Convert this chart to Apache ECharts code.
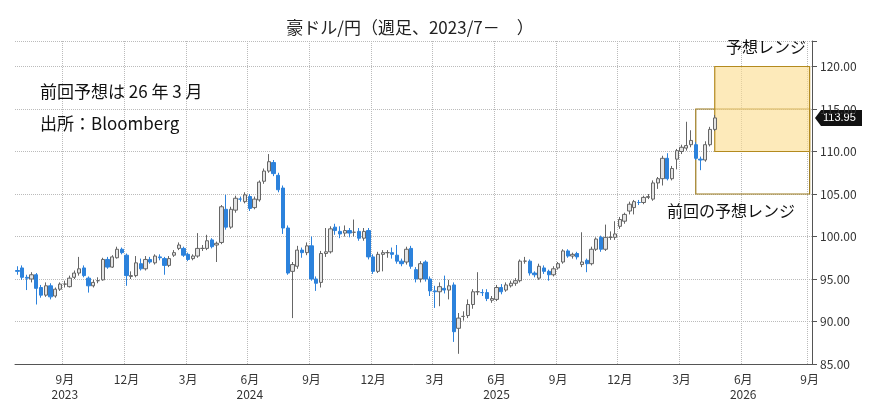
<!DOCTYPE html>
<html>
<head>
<meta charset="utf-8">
<script src="https://cdn.jsdelivr.net/npm/echarts@6/dist/echarts.min.js"></script>
<style>body{margin:0;background:#fff}#chart{width:874px;height:409px}</style>
</head>
<body>
<div id="chart"></div>
<script>
// weekly candles from week of 2023-06-26, [open, close, low, high]
var candles = [
  [96.0,95.9,95.5,96.5],[96.3,95.2,94.9,96.6],[95.2,95.1,93.7,95.5],[95.0,95.5,94.6,95.8],[95.5,93.9,92.0,95.7],
  [94.0,93.1,92.8,94.3],[93.1,94.2,92.9,94.6],[94.2,92.9,92.6,94.5],[93.0,93.8,92.8,94.0],[93.8,94.4,93.6,94.6],
  [94.4,94.4,94.0,94.8],[94.1,95.1,94.0,95.4],[95.2,95.7,95.0,96.0],[95.7,96.2,95.4,97.6],[96.3,95.4,95.2,96.6],
  [95.1,94.2,93.4,95.3],[94.2,94.6,94.0,94.9],[94.8,94.8,94.5,95.2],[94.9,97.3,94.8,97.5],[97.3,96.4,96.2,97.6],
  [96.4,97.6,96.3,97.8],[97.5,98.5,97.4,98.8],[98.5,98.1,97.9,98.7],[97.8,95.4,94.2,98.0],[95.3,95.4,95.0,95.9],
  [95.4,96.9,95.2,97.7],[96.8,96.2,96.0,97.4],[96.2,97.3,96.0,97.7],[97.3,97.0,96.8,97.6],[96.9,97.7,96.7,97.9],
  [97.6,97.5,97.2,97.9],[97.4,96.6,95.5,97.6],[96.6,97.4,96.4,97.7],[97.8,98.1,97.6,98.4],[98.6,99.0,98.4,99.3],
  [98.6,97.8,97.6,98.8],[97.9,97.3,97.1,98.1],[97.4,97.7,97.2,97.9],[97.7,98.6,97.5,100.4],[98.6,98.6,98.3,99.0],
  [98.6,99.5,98.4,100.2],[99.6,98.8,98.6,99.8],[99.0,99.2,97.0,99.4],[99.3,103.5,99.1,103.7],[103.2,101.1,100.8,104.9],
  [101.1,103.2,100.9,103.5],[103.1,104.5,102.8,104.8],[104.4,104.4,104.1,104.7],[104.1,104.9,103.9,105.2],[104.7,103.3,103.0,105.0],
  [103.4,104.4,103.2,104.7],[104.3,106.4,104.1,106.6],[106.5,107.7,106.2,108.0],[107.7,108.8,107.5,109.7],[108.7,107.4,107.1,109.0],
  [107.2,105.5,105.2,107.5],[105.7,101.0,100.3,106.0],[101.0,95.7,95.5,101.3],[95.9,96.7,90.4,97.0],[96.5,98.4,96.2,98.9],
  [98.4,98.1,97.5,98.7],[98.1,98.9,97.8,99.3],[98.9,95.0,94.8,100.0],[95.0,94.5,93.6,95.3],[94.6,98.0,94.0,98.3],
  [98.0,98.2,97.6,101.0],[98.2,100.9,98.0,101.2],[101.1,100.7,100.2,101.5],[100.6,100.3,99.8,101.2],[100.4,100.7,100.0,101.3],
  [100.7,100.4,99.9,101.0],[100.5,100.5,100.0,102.0],[100.6,99.8,99.5,101.0],[99.8,100.6,99.5,101.0],[100.7,97.6,97.3,101.0],
  [97.6,95.9,95.6,97.9],[95.9,97.9,95.7,98.2],[97.9,98.1,95.9,98.4],[98.1,98.1,97.5,98.4],[98.1,97.9,97.4,98.7],
  [97.8,97.1,96.8,99.0],[97.1,96.8,96.5,97.4],[97.0,98.5,96.7,98.8],[98.6,96.5,96.2,98.9],[96.1,95.0,94.6,96.4],
  [95.0,96.8,94.6,97.1],[97.0,95.0,94.7,97.2],[95.0,93.6,93.0,95.3],[93.6,93.5,91.6,94.2],[93.5,94.1,91.8,94.6],
  [93.9,93.7,93.3,95.4],[93.7,94.2,92.6,94.9],[94.3,88.8,87.6,94.6],[89.2,90.4,86.2,91.0],[90.6,90.6,90.1,91.2],
  [90.7,92.0,90.4,92.6],[92.0,93.5,91.5,93.8],[93.5,93.5,93.1,95.8],[93.4,93.4,93.0,93.8],[93.4,92.7,92.4,93.8],
  [92.5,92.7,92.2,93.0],[92.6,94.0,92.4,94.3],[94.0,93.5,93.2,94.4],[93.7,94.3,93.5,94.6],[94.2,94.5,94.0,94.8],
  [94.5,94.8,94.2,95.1],[94.8,97.1,94.6,97.3],[97.1,97.1,96.8,97.6],[97.1,95.7,95.4,97.3],[95.7,95.5,95.2,95.9],
  [95.1,96.5,94.9,96.8],[96.3,95.9,95.6,96.6],[95.9,95.5,94.8,96.1],[95.5,96.2,95.3,96.5],[96.3,96.8,96.1,97.0],
  [97.0,98.3,96.8,98.5],[98.3,97.7,97.5,98.5],[97.7,97.9,97.4,98.1],[98.0,97.6,97.3,98.2],[96.7,97.0,96.4,100.5],
  [97.2,96.8,95.8,97.4],[96.8,98.5,96.6,98.8],[98.5,99.7,98.3,99.9],[99.9,98.5,98.2,100.1],[98.5,99.9,98.3,101.4],
  [99.9,99.9,99.6,100.6],[99.9,100.3,99.6,101.8],[101.2,102.0,100.9,102.3],[101.8,102.6,101.5,102.8],[103.0,103.8,102.6,104.1],
  [103.4,104.1,102.6,104.3],[104.0,104.0,103.7,104.3],[104.0,104.6,103.8,104.8],[104.6,104.7,104.4,105.0],[104.4,106.3,104.2,106.6],
  [106.3,106.8,105.6,107.0],[106.8,109.2,106.0,109.5],[109.2,106.8,106.6,109.8],[106.8,108.0,106.6,108.3],[109.1,110.1,107.9,110.3],
  [110.0,110.5,109.7,110.8],[110.4,110.7,110.1,113.5],[110.8,111.3,110.5,112.5],[110.8,109.2,109.0,111.1],[109.1,109.0,107.8,109.4],
  [109.0,110.8,108.8,111.2],[110.8,112.6,110.6,112.9],[112.6,113.95,112.4,114.3]
];
var yTicks = [85, 90, 95, 100, 105, 110, 115, 120];
var lastPrice = 113.95;
var prevRange = [105, 115];
var newRange = [110, 120];
var totalWeeks = 168;

var dates = [];
var d0 = new Date(Date.UTC(2023, 5, 26));
for (var i = 0; i < totalWeeks; i++) {
  var d = new Date(d0.getTime() + i * 7 * 86400000);
  dates.push(d.toISOString().slice(0, 10));
}
function monthStart(idx) {
  if (idx === 0) return false;
  var m = dates[idx].slice(5, 7), pm = dates[idx - 1].slice(5, 7);
  return m !== pm && ['03', '06', '09', '12'].indexOf(m) >= 0;
}
var prevStart = dates[143], newStart = dates[147], endDate = dates[totalWeeks - 1];

var chart = echarts.init(document.getElementById('chart'));
var font = '"Noto Sans CJK JP", sans-serif';
var texts = [
  {type: 'text', left: 40, top: 83, style: {text: '前回予想は 26 年 3 月', fontSize: 17, fill: '#111', fontFamily: font}},
  {type: 'text', left: 40, top: 115, style: {text: '出所：Bloomberg', fontSize: 17, fill: '#111', fontFamily: font}},
  {type: 'text', left: 726, top: 39, style: {text: '予想レンジ', fontSize: 16, fill: '#111', fontFamily: font}},
  {type: 'text', left: 667, top: 203, style: {text: '前回の予想レンジ', fontSize: 16, fill: '#111', fontFamily: font}}
];
chart.setOption({
  animation: false,
  textStyle: {fontFamily: font},
  title: {text: '豪ドル/円（週足、2023/7－　）', left: 405, top: 14, textAlign: 'center',
    textStyle: {fontSize: 17, fontWeight: 'normal', color: '#222', fontFamily: font}},
  grid: {left: 15, right: 62, top: 41, bottom: 45},
  xAxis: {
    type: 'category', data: dates, boundaryGap: true,
    axisLine: {lineStyle: {color: '#555'}},
    axisTick: {interval: function (i) { return monthStart(i); }, lineStyle: {color: '#555'}},
    splitLine: {show: true, interval: function (i) { return monthStart(i); }, lineStyle: {color: '#bbb', type: 'dotted'}},
    axisLabel: {
      interval: function (i) { return monthStart(i); },
      color: '#333', fontSize: 12, lineHeight: 15,
      formatter: function (v) {
        var y = v.slice(0, 4), m = parseInt(v.slice(5, 7), 10);
        var s = m + '月';
        if ((y === '2023' && m === 9) || (y !== '2023' && m === 6)) s += '\n' + y;
        return s;
      }
    }
  },
  yAxis: {
    type: 'value', position: 'right', min: 85, max: 123, interval: 5, scale: true,
    axisLine: {show: true, lineStyle: {color: '#555'}},
    axisTick: {show: true},
    splitLine: {lineStyle: {color: '#bbb', type: 'dotted'}},
    axisLabel: {color: '#333', fontSize: 12,
      formatter: function (v) { return yTicks.indexOf(v) >= 0 ? v.toFixed(2) : ''; }}
  },
  series: [{
    type: 'candlestick',
    data: candles,
    barWidth: 3.8,
    itemStyle: {color: '#e4e4e4', color0: '#2c82dc', borderColor: '#666', borderColor0: '#2c82dc', borderWidth: 1},
    markArea: {
      silent: true,
      data: [
        [{xAxis: prevStart, yAxis: prevRange[0], itemStyle: {color: 'rgba(0,0,0,0)', borderColor: '#9c7a1c', borderWidth: 1.2}},
         {xAxis: endDate, yAxis: prevRange[1]}],
        [{xAxis: newStart, yAxis: newRange[0], itemStyle: {color: 'rgba(252,220,140,0.6)', borderColor: '#b38a1e', borderWidth: 1.2}},
         {xAxis: endDate, yAxis: newRange[1]}]
      ]
    }
  }],
  graphic: texts
});

var py = chart.convertToPixel({yAxisIndex: 0}, lastPrice);
chart.setOption({graphic: texts.concat([
  {type: 'polygon', shape: {points: [[815, py], [821, py - 8], [862, py - 8], [862, py + 8], [821, py + 8]]}, style: {fill: '#111'}},
  {type: 'text', x: 823, y: py, style: {text: lastPrice.toFixed(2), fill: '#fff', fontSize: 11, verticalAlign: 'middle', fontFamily: 'Liberation Sans'}}
])}, {replaceMerge: ['graphic']});
</script>
</body>
</html>
